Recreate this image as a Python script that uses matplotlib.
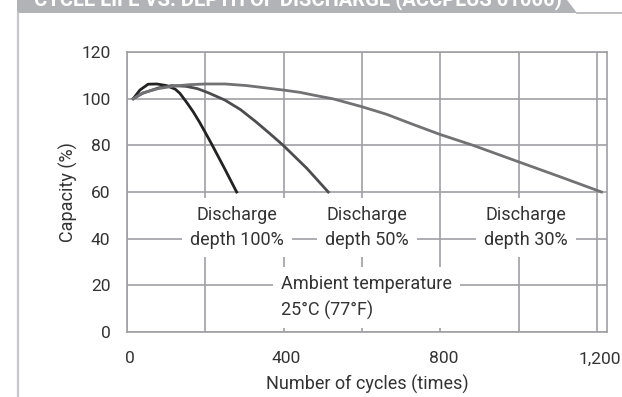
import matplotlib.pyplot as plt
import matplotlib.transforms as mtransforms
from matplotlib.patches import Polygon
from matplotlib.lines import Line2D

# cycle-life curves
cycles_100 = [16, 33, 54, 76, 101, 123, 135, 152, 169, 185, 200, 216, 250, 280]
cap_100 = [100, 103.7, 106.2, 106.3, 105.6, 104.1, 102.3, 98.5, 94.4, 90, 85.5, 80.6, 69.8, 60]

cycles_50 = [16, 40, 80, 114, 150, 180, 208, 250, 290, 330, 365, 399, 459, 514]
cap_50 = [100, 102.3, 104.6, 105.6, 105.3, 104.3, 102.5, 99.4, 95.3, 90, 85, 80, 70.2, 60]

cycles_30 = [16, 40, 80, 120, 160, 200, 250, 306, 350, 399, 442, 480, 527, 599,
             663, 730, 799, 884, 999, 1105, 1212]
cap_30 = [100, 102.5, 104.3, 105.4, 106, 106.3, 106.3, 105.6, 104.7, 103.7, 102.7,
          101.4, 99.9, 96.6, 93.3, 89, 84.7, 80, 73, 66.6, 60]

x_ticks = [0, 400, 800, 1200]
x_tick_labels = ["0", "400", "800", "1,200"]
y_ticks = [0, 20, 40, 60, 80, 100, 120]

title = "CYCLE LIFE VS. DEPTH OF DISCHARGE (ACCPLUS 01000)"

plt.rcParams["font.family"] = ["Roboto", "DejaVu Sans"]
txt = "#333333"
grid = "#a0a0a4"

W, H = 622, 397
fig = plt.figure(figsize=(W / 100, H / 100), dpi=100)

# page decoration: grey title banner and left border line
fig.patches.append(Polygon([(17 / W, 1), (567 / W, 1), (577 / W, 1 - 13 / H), (17 / W, 1 - 13 / H)],
                           closed=True, transform=fig.transFigure, facecolor="#b2b3b7",
                           edgecolor="none"))
fig.add_artist(Line2D([577 / W, 1], [1 - 12.5 / H, 1 - 12.5 / H], transform=fig.transFigure,
                      color="#b2b3b7", lw=1.2))
fig.add_artist(Line2D([18 / W, 18 / W], [0, 1 - 13 / H], transform=fig.transFigure,
                      color="#c8c8cc", lw=1.6))
fig.text(34 / W, 1 - 5 / H, title, color="white", fontsize=14.5, fontweight="bold",
         ha="left", va="baseline")

ax = fig.add_axes([127 / W, (H - 332) / H, (607 - 127) / W, 280 / H])

ax.plot(cycles_100, cap_100, color="#222222", lw=2.0, zorder=4)
ax.plot(cycles_50, cap_50, color="#4d4d4f", lw=2.0, zorder=4)
ax.plot(cycles_30, cap_30, color="#727274", lw=2.0, zorder=4)

ax.set_xlim(0, 1226)
ax.set_ylim(0, 120)
ax.set_xticks(x_ticks)
ax.set_xticklabels(x_tick_labels)
ax.set_xticks(range(0, 1201, 200), minor=True)
ax.set_yticks(y_ticks)
ax.grid(True, which="both", axis="x", color=grid, lw=1.2, zorder=1)
ax.grid(True, axis="y", color=grid, lw=1.2, zorder=1)
ax.set_axisbelow(True)
for s in ax.spines.values():
    s.set_color(grid)
    s.set_linewidth(1.2)
ax.tick_params(which="both", length=0)
ax.tick_params(axis="x", pad=14, labelsize=12.5, labelcolor=txt)
ax.tick_params(axis="y", pad=12, labelsize=12.5, labelcolor=txt)

offset = mtransforms.ScaledTranslation(3 / 100, 0, fig.dpi_scale_trans)
for lbl in ax.get_xticklabels():
    lbl.set_transform(lbl.get_transform() + offset)

ax.set_xlabel("Number of cycles (times)", fontsize=13, color=txt, labelpad=6)
ax.set_ylabel("Capacity (%)", fontsize=13, color=txt, labelpad=2)

box = dict(boxstyle="square,pad=0.45", facecolor="white", edgecolor="none")
ax.text(281, 44.8, "Discharge\ndepth 100%", ha="center", va="center", fontsize=13,
        color=txt, linespacing=1.5, bbox=box, zorder=3)
ax.text(613, 44.8, "Discharge\ndepth 50%", ha="center", va="center", fontsize=13,
        color=txt, linespacing=1.5, bbox=box, zorder=3)
ax.text(1019, 44.8, "Discharge\ndepth 30%", ha="center", va="center", fontsize=13,
        color=txt, linespacing=1.5, bbox=box, zorder=3)
ax.text(393, 14.8, "Ambient temperature\n25°C (77°F)", ha="left", va="center",
        fontsize=13, color=txt, linespacing=1.5, bbox=box, zorder=3)

plt.savefig("out.png", dpi=100)
